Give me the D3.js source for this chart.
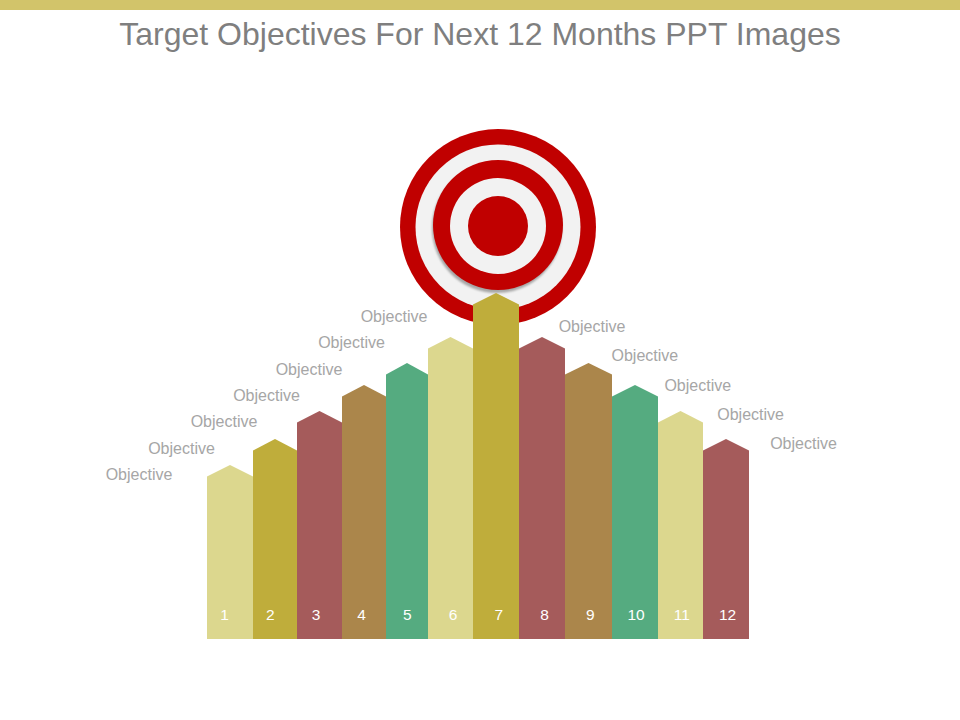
<!DOCTYPE html>
<html>
<head>
<meta charset="utf-8">
<style>
  html, body { margin: 0; padding: 0; background: #fff; }
  svg { display: block; }
</style>
<script src="https://cdn.jsdelivr.net/npm/d3@7"></script>
</head>
<body>
<script>
var months = ['1', '2', '3', '4', '5', '6', '7', '8', '9', '10', '11', '12'];
var heights = [174, 200, 228, 254, 276, 302, 346, 302, 276, 254, 228, 200];
var spans = [46, 44, 45, 44, 42, 45, 46, 46, 47, 46, 45, 46];
var colors = ['#dcd78e', '#bfad3b', '#a55b5b', '#ab864b', '#55ab80', '#dcd78e',
              '#bfad3b', '#a55b5b', '#ab864b', '#55ab80', '#dcd78e', '#a55b5b'];
var labels = ['Objective', 'Objective', 'Objective', 'Objective', 'Objective', 'Objective',
              'Objective', 'Objective', 'Objective', 'Objective', 'Objective', 'Objective'];
var titleText = 'Target Objectives For Next 12 Months PPT Images';

// target rings, outermost first
var rings = ['outer', 'outerGap', 'inner', 'innerGap', 'bull'];
var ringRadius = [98, 82.5, 65, 48, 30];
var ringColors = ['#c00000', '#f2f2f2', '#c00000', '#f2f2f2', '#c00000'];

var width = 960, height = 720;
var shoulder = 11.5;

var svg = d3.select('body').append('svg')
            .attr('width', width)
            .attr('height', height);

var defs = svg.append('defs');
defs.append('filter').attr('id', 'ringShadow')
    .attr('x', '-20%').attr('y', '-20%').attr('width', '140%').attr('height', '140%')
    .append('feGaussianBlur').attr('stdDeviation', 0.8);

svg.append('rect')
   .attr('width', width)
   .attr('height', 10)
   .attr('fill', '#d2c46a');

svg.append('text')
   .attr('x', 480)
   .attr('y', 45)
   .attr('text-anchor', 'middle')
   .style('font-family', '"Liberation Sans", Arial, sans-serif')
   .style('font-size', '32px')
   .attr('fill', '#7f7f7f')
   .text(titleText);

// target
var target = svg.append('g').attr('class', 'target');

target.selectAll('circle.ring').data(rings).enter()
    .append('circle')
    .attr('class', 'ring')
    .attr('cx', 498)
    .attr('cy', function(d, i) { return i < 2 ? 227 : (i === 2 ? 225 : 226); })
    .attr('r', function(d, i) { return ringRadius[i]; })
    .attr('fill', function(d, i) { return ringColors[i]; });

// soft shadow sits under the inner red ring
target.insert('circle', 'circle.ring:nth-of-type(3)')
    .attr('cx', 497)
    .attr('cy', 228)
    .attr('r', ringRadius[2])
    .attr('fill', '#a6a6a6')
    .attr('filter', 'url(#ringShadow)');

// bars
var edges = d3.cumsum(spans);
var x = d3.scaleLinear().domain([0, d3.sum(spans)]).range([207, 749]);
var y = d3.scaleLinear().domain([0, d3.max(heights)]).range([639, 293]);

var bar = d3.line()
    .x(function(d) { return x(d[0]); })
    .y(function(d) { return y(d[1]); });

svg.selectAll('path.bar').data(heights).enter()
    .append('path')
    .attr('class', 'bar')
    .attr('fill', function(d, i) { return colors[i]; })
    .attr('d', function(d, i) {
      var x0 = edges[i] - spans[i], x1 = edges[i];
      return bar([[x0, 0], [x0, d - shoulder], [(x0 + x1) / 2, d], [x1, d - shoulder], [x1, 0]]) + 'Z';
    });

// month numbers
var numX = d3.scalePoint().domain(months).range([224.5, 727.5]);
svg.selectAll('text.num').data(months).enter()
    .append('text')
    .attr('class', 'num')
    .attr('x', function(d) { return numX(d); })
    .attr('y', 620)
    .attr('text-anchor', 'middle')
    .style('font-family', '"Liberation Sans", Arial, sans-serif')
    .style('font-size', '15.5px')
    .attr('fill', '#fff')
    .text(function(d) { return d; });

// labels climb on the left of the peak, then step down on the right
var leftX = d3.scaleLinear().domain([0, 6]).range([139, 394]);
var leftY = d3.scaleLinear().domain([0, 6]).range([480, 322]);
var rightX = d3.scaleLinear().domain([7, 11]).range([592, 803.5]);
var rightY = d3.scaleLinear().domain([7, 11]).range([332, 449]);

svg.selectAll('text.label').data(labels).enter()
    .append('text')
    .attr('class', 'label')
    .attr('x', function(d, i) { return i < 7 ? leftX(i) : rightX(i); })
    .attr('y', function(d, i) { return i < 7 ? leftY(i) : rightY(i); })
    .attr('text-anchor', 'middle')
    .style('font-family', '"Liberation Sans", Arial, sans-serif')
    .style('font-size', '16px')
    .attr('fill', '#a6a6a6')
    .text(function(d) { return d; });
</script>
</body>
</html>
